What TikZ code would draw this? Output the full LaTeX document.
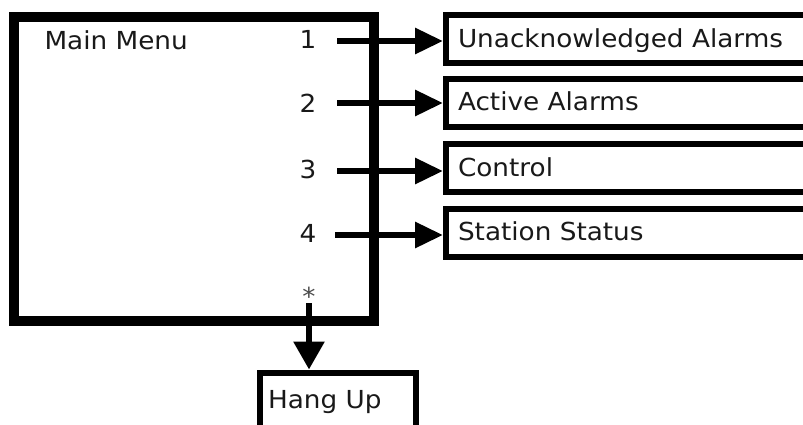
\documentclass[tikz,border=0pt]{standalone}
\usepackage{fontspec}
\setmainfont{DejaVu Sans}[FakeStretch=1.06]
\usetikzlibrary{arrows.meta}
\begin{document}
\begin{tikzpicture}[x=1pt,y=-1pt,
  txt/.style={inner sep=0pt,outer sep=0pt,font=\fontsize{24.8}{28}\selectfont,text=black!90},
  mainbox/.style={draw,line width=10pt,inner sep=0pt,outer sep=5pt,minimum width=360pt,minimum height=304pt},
  subbox/.style={draw,line width=6pt,inner sep=0pt,outer sep=3pt,minimum width=500pt,minimum height=48pt,anchor=west},
  hangbox/.style={draw,line width=6pt,inner sep=0pt,outer sep=3pt,minimum width=155.5pt,minimum height=110pt,anchor=north},
  arr/.style={line width=6pt,-{Triangle[length=28pt,width=25pt]}},
  darr/.style={line width=6pt,-{Triangle[length=28pt,width=30pt]}}]
\useasboundingbox (0,0) rectangle (803,424);
\clip (0,0) rectangle (803,424);
\fill[white] (0,0) rectangle (803,424);
% main menu box
\node[mainbox] (main) at (194,169) {};
\node[txt,anchor=base west] (mmtxt) at (44.5,49.5) {Main Menu};
% sub boxes
\node[subbox] (b1) at (443,39) {};
\node[subbox] (b2) at (443,103) {};
\node[subbox] (b3) at (443,168.3) {};
\node[subbox] (b4) at (443,232.5) {};
\node[txt,anchor=base west] (t1) at (458,47) {Unacknowledged Alarms};
\node[txt,anchor=base west] (t2) at (458,110.5) {Active Alarms};
\node[txt,anchor=base west] (t3) at (458,176) {Control};
\node[txt,anchor=base west] (t4) at (458,240.5) {Station Status};
% numbers
\node[txt,anchor=base] (n1) at (308,48) {1};
\node[txt,anchor=base] (n2) at (308,112) {2};
\node[txt,anchor=base] (n3) at (308,178) {3};
\node[txt,anchor=base] (n4) at (308,242) {4};
\node[txt,anchor=base,text=black!70] (n5) at (309,305) {*};
% hang up
\node[hangbox] (hang) at (337.75,369.5) {};
\node[txt,anchor=base west] (th) at (268,408) {Hang Up};
% connectors
\coordinate (s1) at (337,41);
\coordinate (s2) at (337,103);
\coordinate (s3) at (337,171);
\coordinate (s4) at (335,235);
\coordinate (s5) at (309,303);
\draw[arr] (s1) -- (s1 -| b1.west);
\draw[arr] (s2) -- (s2 -| b2.west);
\draw[arr] (s3) -- (s3 -| b3.west);
\draw[arr] (s4) -- (s4 -| b4.west);
\draw[darr] (s5) -- (s5 |- hang.north);
\end{tikzpicture}
\end{document}
